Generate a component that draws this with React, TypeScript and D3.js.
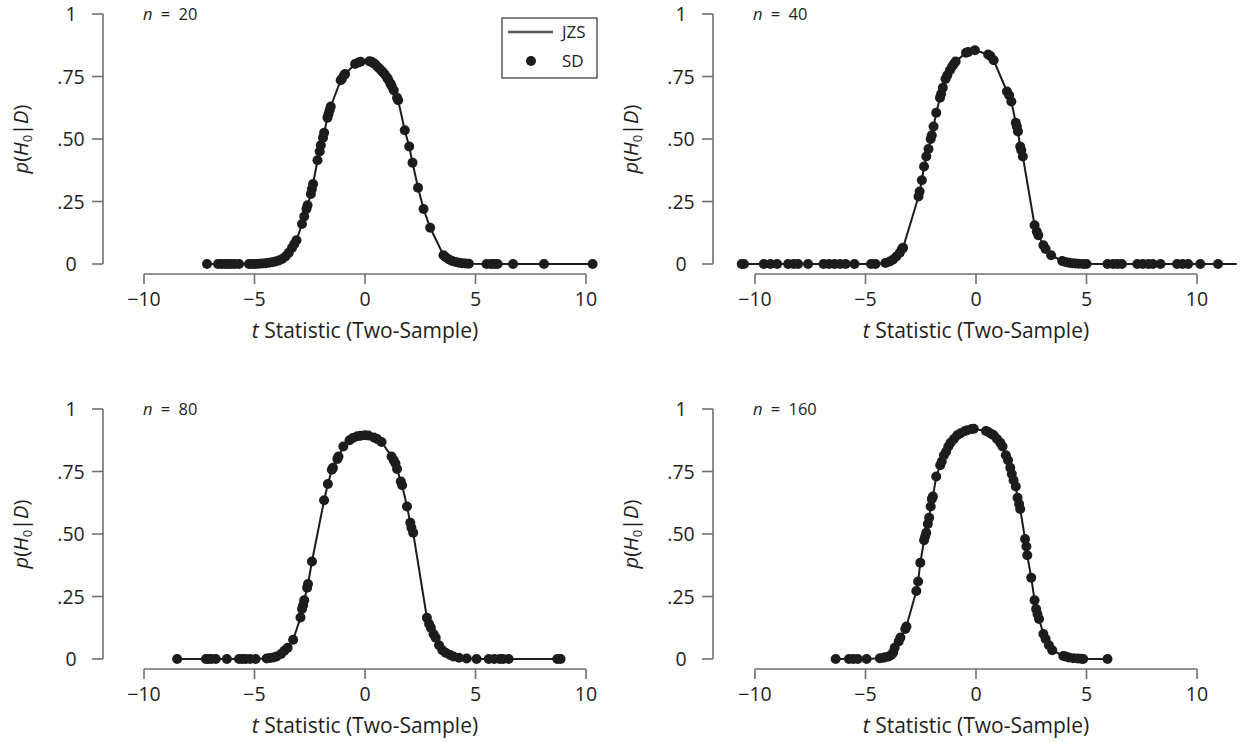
import * as React from "react";
import * as d3 from "d3";

// SD estimates [t, p(H0|D)]
const sdN20: [number, number][] = [
  [-7.15, 0], [-6.65, 0], [-6.5, 0], [-6.35, 0], [-6.2, 0], [-6.05, 0], [-5.9, 0], [-5.7, 0],
  [-5.25, 0], [-5.1, 0], [-4.95, 0], [-4.8, 0.001], [-4.65, 0.002], [-4.5, 0.003], [-4.35, 0.005],
  [-4.2, 0.007], [-4.05, 0.01], [-3.9, 0.014], [-3.75, 0.02], [-3.6, 0.03], [-3.45, 0.045],
  [-3.3, 0.065], [-3.2, 0.08], [-3.1, 0.095], [-2.85, 0.16], [-2.75, 0.19], [-2.65, 0.22],
  [-2.6, 0.235], [-2.45, 0.28], [-2.4, 0.3], [-2.35, 0.32], [-2.15, 0.415], [-2.05, 0.45],
  [-2.0, 0.475], [-1.9, 0.505], [-1.85, 0.525], [-1.7, 0.585], [-1.65, 0.6], [-1.6, 0.615],
  [-1.55, 0.63], [-1.1, 0.735], [-1.05, 0.74], [-0.95, 0.755], [-0.9, 0.76], [-0.45, 0.8],
  [-0.3, 0.806], [-0.2, 0.809], [0.2, 0.811], [0.3, 0.809], [0.35, 0.805], [0.45, 0.8],
  [0.55, 0.79], [0.65, 0.782], [0.75, 0.773], [0.8, 0.768], [0.9, 0.758], [1.0, 0.745],
  [1.05, 0.738], [1.15, 0.722], [1.2, 0.713], [1.3, 0.695], [1.45, 0.665], [1.5, 0.655],
  [1.8, 0.535], [2.0, 0.47], [2.15, 0.405], [2.4, 0.305], [2.65, 0.22], [2.95, 0.145],
  [3.55, 0.035], [3.65, 0.027], [3.8, 0.018], [3.95, 0.012], [4.1, 0.008], [4.25, 0.005],
  [4.4, 0.003], [4.55, 0.002], [4.7, 0.001], [5.5, 0], [5.7, 0], [5.85, 0], [6.0, 0],
  [6.7, 0], [8.1, 0], [10.3, 0],
];

const sdN40: [number, number][] = [
  [-10.6, 0], [-10.5, 0], [-9.6, 0], [-9.3, 0], [-9.0, 0], [-8.5, 0], [-8.25, 0], [-8.05, 0],
  [-7.6, 0], [-6.9, 0], [-6.65, 0], [-6.4, 0], [-6.15, 0], [-5.9, 0], [-5.5, 0], [-4.75, 0],
  [-4.55, 0], [-4.1, 0.004], [-3.9, 0.01], [-3.75, 0.018], [-3.6, 0.03], [-3.45, 0.045],
  [-3.35, 0.06], [-3.3, 0.065], [-2.6, 0.27], [-2.55, 0.29], [-2.45, 0.335], [-2.35, 0.39],
  [-2.25, 0.43], [-2.15, 0.46], [-2.05, 0.5], [-2.0, 0.515], [-1.92, 0.55], [-1.8, 0.605],
  [-1.63, 0.665], [-1.58, 0.68], [-1.5, 0.705], [-1.38, 0.74], [-1.3, 0.755], [-1.18, 0.775],
  [-1.08, 0.79], [-1.0, 0.8], [-0.92, 0.81], [-0.45, 0.845], [-0.35, 0.848], [-0.05, 0.855],
  [0.55, 0.838], [0.65, 0.832], [0.8, 0.815], [1.4, 0.69], [1.5, 0.675], [1.6, 0.65],
  [1.8, 0.565], [1.85, 0.55], [1.9, 0.53], [2.0, 0.47], [2.05, 0.455], [2.12, 0.43],
  [2.65, 0.155], [2.75, 0.13], [2.82, 0.115], [3.05, 0.075], [3.15, 0.06], [3.4, 0.035],
  [3.9, 0.012], [4.05, 0.008], [4.2, 0.005], [4.35, 0.003], [4.5, 0.002], [4.65, 0.001],
  [4.85, 0], [5.0, 0], [5.95, 0], [6.2, 0], [6.4, 0], [6.6, 0], [7.3, 0], [7.55, 0], [7.8, 0],
  [8.0, 0], [8.35, 0], [9.1, 0], [9.35, 0], [9.6, 0], [10.15, 0], [10.95, 0],
];

const sdN80: [number, number][] = [
  [-8.5, 0], [-7.2, 0], [-7.1, 0], [-6.95, 0], [-6.75, 0], [-6.25, 0], [-5.7, 0], [-5.55, 0],
  [-5.4, 0], [-5.2, 0], [-4.95, 0], [-4.45, 0.002], [-4.3, 0.004], [-4.15, 0.006], [-4.0, 0.01],
  [-3.8, 0.02], [-3.65, 0.033], [-3.5, 0.045], [-3.25, 0.077], [-2.92, 0.166], [-2.85, 0.2],
  [-2.8, 0.215], [-2.75, 0.235], [-2.62, 0.285], [-2.58, 0.3], [-2.4, 0.39], [-1.85, 0.635],
  [-1.68, 0.7], [-1.5, 0.757], [-1.45, 0.765], [-1.25, 0.8], [-1.2, 0.81], [-0.98, 0.85],
  [-0.7, 0.875], [-0.55, 0.884], [-0.35, 0.891], [-0.2, 0.893], [0.0, 0.895], [0.15, 0.894],
  [0.4, 0.886], [0.55, 0.88], [0.75, 0.868], [1.2, 0.81], [1.3, 0.795], [1.38, 0.782],
  [1.45, 0.76], [1.62, 0.71], [1.68, 0.695], [1.9, 0.61], [2.05, 0.545], [2.1, 0.525],
  [2.18, 0.505], [2.8, 0.165], [2.9, 0.14], [2.98, 0.125], [3.1, 0.1], [3.2, 0.085],
  [3.35, 0.055], [3.5, 0.035], [3.65, 0.025], [3.85, 0.016], [4.0, 0.01], [4.25, 0.005],
  [4.6, 0.002], [5.05, 0], [5.6, 0], [5.85, 0], [6.1, 0], [6.25, 0], [6.5, 0], [8.7, 0], [8.85, 0],
];

const sdN160: [number, number][] = [
  [-6.35, 0], [-5.75, 0], [-5.55, 0], [-5.35, 0], [-4.95, 0], [-4.35, 0.003], [-4.2, 0.005],
  [-4.1, 0.007], [-3.95, 0.01], [-3.85, 0.015], [-3.75, 0.025], [-3.68, 0.045], [-3.5, 0.07],
  [-3.42, 0.086], [-3.2, 0.12], [-3.15, 0.13], [-2.7, 0.272], [-2.62, 0.31], [-2.52, 0.385],
  [-2.35, 0.475], [-2.3, 0.49], [-2.25, 0.505], [-2.18, 0.54], [-2.12, 0.565], [-2.05, 0.61],
  [-2.0, 0.64], [-1.95, 0.65], [-1.8, 0.73], [-1.62, 0.775], [-1.55, 0.79], [-1.45, 0.815],
  [-1.35, 0.83], [-1.25, 0.85], [-1.15, 0.865], [-1.0, 0.88], [-0.85, 0.895], [-0.7, 0.903],
  [-0.5, 0.912], [-0.4, 0.915], [-0.2, 0.92], [-0.1, 0.921], [0.45, 0.912], [0.55, 0.908],
  [0.7, 0.9], [0.8, 0.895], [0.95, 0.88], [1.1, 0.865], [1.2, 0.85], [1.35, 0.815],
  [1.45, 0.795], [1.55, 0.765], [1.62, 0.74], [1.7, 0.715], [1.8, 0.69], [1.88, 0.645],
  [1.95, 0.62], [2.0, 0.6], [2.22, 0.48], [2.28, 0.45], [2.32, 0.415], [2.5, 0.325],
  [2.65, 0.235], [2.72, 0.2], [2.78, 0.18], [2.85, 0.16], [3.05, 0.1], [3.15, 0.08],
  [3.3, 0.055], [3.45, 0.035], [3.95, 0.012], [4.05, 0.01], [4.2, 0.006], [4.4, 0.003],
  [4.6, 0.002], [4.75, 0.001], [4.85, 0], [5.95, 0],
];

// t range covered by the JZS line in each panel
const jzsRange20 = [-7.15, 10.3];
const jzsRange40 = [-10.6, 11.8];
const jzsRange80 = [-8.5, 8.85];
const jzsRange160 = [-6.35, 5.95];

const sampleSizes = ["20", "40", "80", "160"];
const xTicks = [-10, -5, 0, 5, 10];
const yTicks = [0, 0.25, 0.5, 0.75, 1];
const yTickLabels = ["0", ".25", ".50", ".75", "1"];
const legendLabels = ["JZS", "SD"];

const FONT = "'Open Sans', 'Noto Sans', sans-serif";
const AXIS_COLOR = "#707070";
const INK = "#1c1c1c";
const TEXT = "#1e1e1e";

const colYAxis = [103, 713];
const colXRange = [[144, 586], [755, 1197]];
const rowYRange = [[264, 14], [659, 409]];

function Panel({data, range, n, col, row, legend}) {
  const x = d3.scaleLinear().domain([-10, 10]).range(colXRange[col]);
  const y = d3.scaleLinear().domain([0, 1]).range(rowYRange[row]);
  const axisX = colYAxis[col];
  const xAxisY = y(0) + 10;

  const lineData = [[range[0], data[0][1]], ...data, [range[1], data[data.length - 1][1]]];
  const line = d3.line().x(d => x(d[0])).y(d => y(d[1]));

  return <g>
    {/* y axis */}
    <line x1={axisX} x2={axisX} y1={y(0)} y2={y(1)} stroke={AXIS_COLOR} strokeWidth={1.6}/>
    {yTicks.map((t, i) => <g key={t}>
      <line x1={axisX - 11} x2={axisX} y1={y(t)} y2={y(t)} stroke={AXIS_COLOR} strokeWidth={1.6}/>
      <text x={axisX - 32} y={y(t) + 7} textAnchor="middle" fontSize={19.5} fill={TEXT}>{yTickLabels[i]}</text>
    </g>)}
    <text transform={`translate(${axisX - 75},${(y(0) + y(1)) / 2}) rotate(-90)`} textAnchor="middle"
          fontSize={20} fill={TEXT}>
      <tspan fontStyle="italic">p</tspan>(<tspan fontStyle="italic">H</tspan>
      <tspan fontSize={13} dy={4}>0</tspan><tspan dy={-4}>|</tspan>
      <tspan fontStyle="italic">D</tspan>)
    </text>

    {/* x axis */}
    <line x1={x(-10)} x2={x(10)} y1={xAxisY} y2={xAxisY} stroke={AXIS_COLOR} strokeWidth={1.6}/>
    {xTicks.map(t => <g key={t}>
      <line x1={x(t)} x2={x(t)} y1={xAxisY} y2={xAxisY + 10} stroke={AXIS_COLOR} strokeWidth={1.6}/>
      <text x={x(t)} y={xAxisY + 32} textAnchor="middle" fontSize={19.5} fill={TEXT}>
        {t < 0 ? `\u2212${Math.abs(t)}` : t}
      </text>
    </g>)}
    <text x={x(0)} y={xAxisY + 64} textAnchor="middle" fontSize={21} fill={TEXT}>
      <tspan fontStyle="italic">t</tspan> Statistic (Two-Sample)
    </text>

    <text x={axisX + 40} y={y(1) + 6} fontSize={16.5} fill={TEXT}>
      <tspan fontStyle="italic">n</tspan>{"\u2002=\u2002"}{n}
    </text>

    <path d={line(lineData)} fill="none" stroke={INK} strokeWidth={2}/>
    {data.map((d, i) => <circle key={i} cx={x(d[0])} cy={y(d[1])} r={5} fill={INK}/>)}

    {legend && <g>
      <rect x={502} y={18} width={95} height={60} fill="white" stroke="#333" strokeWidth={1.2}/>
      <line x1={508} x2={553} y1={32} y2={32} stroke="#555" strokeWidth={2.5}/>
      <text x={562} y={38} fontSize={17} fill={TEXT}>{legendLabels[0]}</text>
      <circle cx={531} cy={61} r={5} fill={INK}/>
      <text x={562} y={67} fontSize={17} fill={TEXT}>{legendLabels[1]}</text>
    </g>}
  </g>;
}

export default function App() {
  const panels = [
    {data: sdN20, range: jzsRange20, col: 0, row: 0, legend: true},
    {data: sdN40, range: jzsRange40, col: 1, row: 0, legend: false},
    {data: sdN80, range: jzsRange80, col: 0, row: 1, legend: false},
    {data: sdN160, range: jzsRange160, col: 1, row: 1, legend: false},
  ];
  return <svg width={1242} height={742} style={{position: "absolute", left: 0, top: 0, background: "white"}}
              fontFamily={FONT}>
    {panels.map((p, i) => <Panel key={i} {...p} n={sampleSizes[i]}/>)}
  </svg>;
}
